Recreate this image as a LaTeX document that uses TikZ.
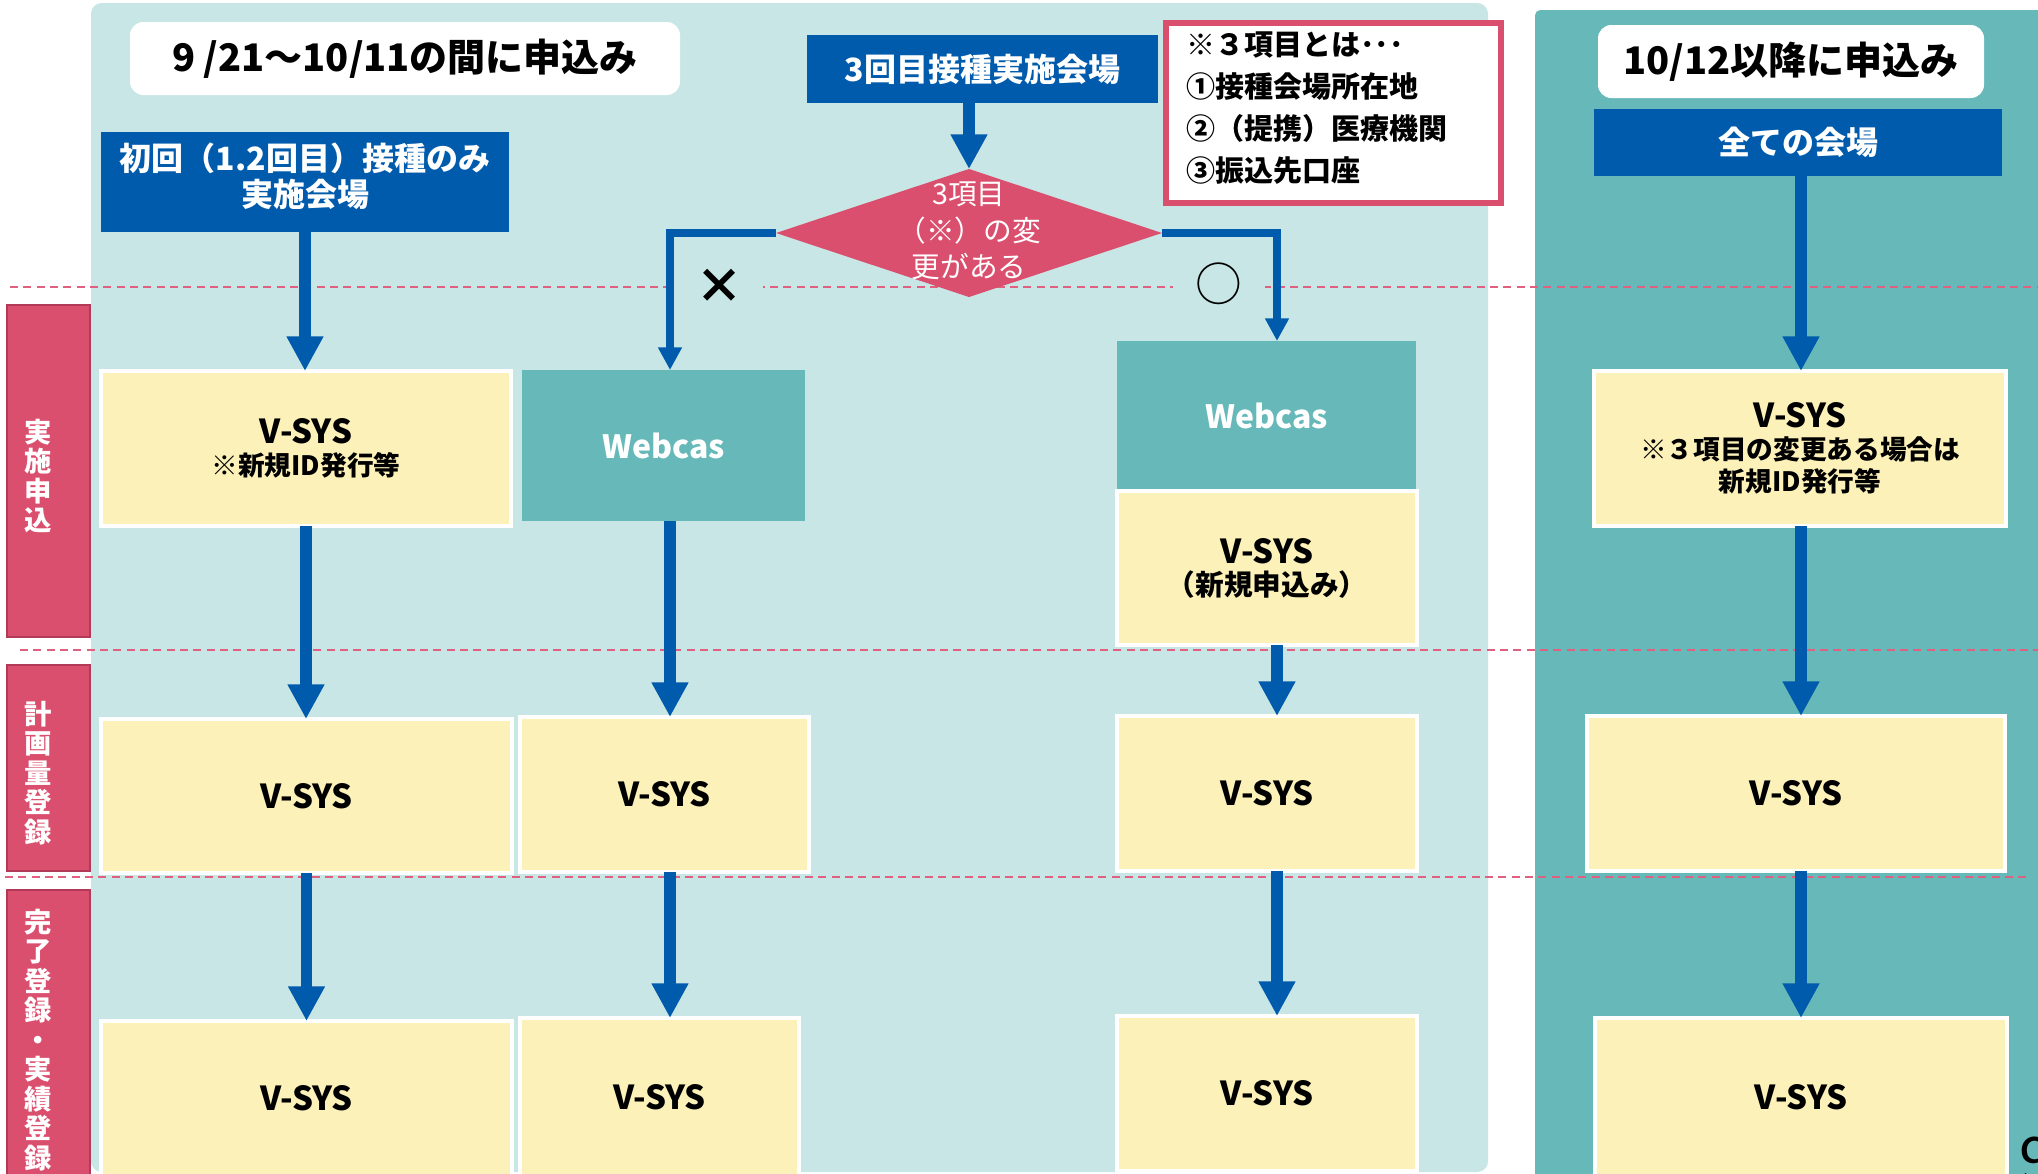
\documentclass[tikz,border=0pt]{standalone}
\usepackage{fontspec}
\setmainfont{Noto Sans CJK JP}
\usetikzlibrary{arrows.meta,shapes.geometric}
\definecolor{panelL}{HTML}{C8E6E6}
\definecolor{panelD}{HTML}{67B9B9}
\definecolor{blueB}{HTML}{005BAC}
\definecolor{yel}{HTML}{FCF1B9}
\definecolor{pinkD}{HTML}{DB4F6E}
\definecolor{pinkB}{HTML}{B03A58}
\definecolor{dashc}{HTML}{E0607F}
\newcommand\rectnode[7]{%
  \node[#6, minimum width={(#4-#2)*0.75pt}, minimum height={(#5-#3)*0.75pt}] (#1) at ({(#2+#4)/2},{(#3+#5)/2}) {#7};}
\begin{document}
\begin{tikzpicture}[x=0.75pt,y=-0.75pt,
  tbox/.style={rectangle, fill=white, rounded corners=10pt, inner sep=0, outer sep=0, font=\bfseries\fontsize{28.5}{32}\selectfont},
  bbox/.style={rectangle, fill=blueB, text=white, inner sep=0, outer sep=0, align=center, font=\bfseries\fontsize{24}{27}\selectfont},
  vbox/.style={rectangle, fill=yel, draw=white, line width=3pt, inner sep=0, outer sep=0, align=center, font=\bfseries\fontsize{24.75}{24}\selectfont},
  wbox/.style={rectangle, fill=panelD, text=white, inner sep=0, outer sep=0, font=\bfseries\fontsize{24}{27}\selectfont},
  sidebox/.style={rectangle, fill=pinkD, draw=pinkB, line width=1.2pt, inner sep=0, outer sep=0},
  sidetext/.style={text=white, align=center, inner sep=0, font=\bfseries\fontsize{20.5}{22.1}\selectfont},
  notebox/.style={rectangle, fill=white, draw=pinkD, line width=4.5pt, inner sep=0, outer sep=0},
  notetext/.style={align=left, inner sep=0, outer sep=0, font=\bfseries\fontsize{21.75}{31.5}\selectfont},
  diabox/.style={diamond, fill=pinkD, inner sep=0, outer sep=0},
  diatext/.style={text=white, align=center, inner sep=0, font=\fontsize{21.5}{27.4}\selectfont},
  arr/.style={draw=blueB, line width=8.5pt, -{Triangle[width=26pt,length=26pt]}},
  arrs/.style={draw=blueB, line width=6pt, -{Triangle[width=17pt,length=17pt]}},
  sepline/.style={draw=dashc, line width=1.5pt, dash pattern=on 6pt off 4pt},
  marksym/.style={fill=panelL, inner sep=0, outer sep=0}
]
\useasboundingbox (0,0) rectangle (2038,1174);
\fill[white] (0,0) rectangle (2038,1174);
% panels
\fill[panelL, rounded corners=8pt] (91,3) rectangle (1488,1172);
\fill[panelD, rounded corners=4pt] (1535,10) rectangle (2060,1200);
% separators
\draw[sepline] (10,287) -- (2038,287);
\draw[sepline] (20,650) -- (2038,650);
\draw[sepline] (5,877) -- (2030,877);
% side labels
\rectnode{s1}{7}{305}{90}{637}{sidebox}{}
\rectnode{s2}{7}{665}{90}{871}{sidebox}{}
\rectnode{s3}{7}{890}{90}{1185}{sidebox}{}
\node[sidetext] (s1t) at (38,476) {実\\施\\申\\込};
\node[sidetext] (s2t) at (38,773) {計\\画\\量\\登\\録};
\node[sidetext] (s3t) at (38,1040) {完\\了\\登\\録\\・\\実\\績\\登\\録};
% titles
\rectnode{t1}{130}{22}{680}{95}{tbox}{9 /21〜10/11の間に申込み}
\rectnode{t2}{1598}{25}{1984}{98}{tbox}{10/12以降に申込み}
% blue headers
\rectnode{b3}{807}{35}{1158}{103}{bbox}{3回目接種実施会場}
\rectnode{b1}{101}{132}{509}{232}{bbox, text depth=11pt}{初回（1.2回目）接種のみ\\実施会場}
\rectnode{b4}{1594}{109}{2002}{176}{bbox}{全ての会場}
% note
\rectnode{note}{1166}{23}{1501}{203}{notebox}{}
\node[notetext, anchor=base west] (notet) at (1186,181) {※３項目とは･･･\\①接種会場所在地\\②（提携）医療機関\\③振込先口座};
% diamond
\node[diabox, minimum width={386*0.75pt}, minimum height={128*0.75pt}] (dia) at (969,233) {};
\node[diatext] (diat) at (969,231) {3項目\\（※）の変\\更がある};
% column 1
\rectnode{c1r1}{101}{371}{511}{526}{vbox}{V-SYS\\{\fontsize{20}{24}\selectfont ※新規ID発行等}}
\rectnode{c1r2}{101}{719}{512}{873}{vbox}{V-SYS}
\rectnode{c1r3}{101}{1021}{512}{1176}{vbox}{V-SYS}
% column 2
\rectnode{c2w}{522}{370}{805}{521}{wbox}{Webcas}
\rectnode{c2r2}{520}{717}{809}{872}{vbox}{V-SYS}
\rectnode{c2r3}{520}{1018}{799}{1176}{vbox}{V-SYS}
% column 3
\rectnode{c3w}{1117}{341}{1416}{490}{wbox}{Webcas}
\rectnode{c3n}{1117}{491}{1417}{645}{vbox}{V-SYS\\{\fontsize{21.5}{25.5}\selectfont （新規申込み）}}
\rectnode{c3r2}{1117}{716}{1417}{871}{vbox}{V-SYS}
\rectnode{c3r3}{1117}{1016}{1417}{1171}{vbox}{V-SYS}
% column 4
\rectnode{c4r1}{1594}{371}{2006}{526}{vbox}{V-SYS\\{\fontsize{20}{24}\selectfont ※３項目の変更ある場合は}\\{\fontsize{20}{24}\selectfont 新規ID発行等}}
\rectnode{c4r2}{1587}{716}{2005}{871}{vbox}{V-SYS}
\rectnode{c4r3}{1595}{1018}{2007}{1176}{vbox}{V-SYS}
% column lines
\coordinate (L2) at (670,0);
\coordinate (L3) at (1277,0);
\coordinate (L4) at (1801,0);
% arrows
\draw[arr] (b3.south -| dia.north) -- (dia.north);
\draw[arrs] (dia.west) -| (c2w.north -| L2);
\draw[arrs] (dia.east) -| (c3w.north -| L3);
\draw[arr] (b1.south) -- (b1.south |- c1r1.north);
\draw[arr] (c1r1.south) -- (c1r1.south |- c1r2.north);
\draw[arr] (c1r2.south) -- (c1r2.south |- c1r3.north);
\draw[arr] (c2w.south -| L2) -- (c2r2.north -| L2);
\draw[arr] (c2r2.south -| L2) -- (c2r3.north -| L2);
\draw[arr] (c3n.south -| L3) -- (c3r2.north -| L3);
\draw[arr] (c3r2.south -| L3) -- (c3r3.north -| L3);
\draw[arr] (b4.south -| L4) -- (c4r1.north -| L4);
\draw[arr] (c4r1.south -| L4) -- (c4r2.north -| L4);
\draw[arr] (c4r2.south -| L4) -- (c4r3.north -| L4);
% marks
\node[marksym, minimum width={87*0.75pt}, font=\bfseries\fontsize{36}{36}\selectfont] (xm) at (719,286) {×};
\node[marksym, minimum width={92*0.75pt}, font=\fontsize{35}{35}\selectfont] (om) at (1219,284) {○};
% page number
\node[anchor=north west, inner sep=0, font=\fontsize{45}{45}\selectfont] (pg) at (2019,1137) {9};
\end{tikzpicture}
\end{document}
